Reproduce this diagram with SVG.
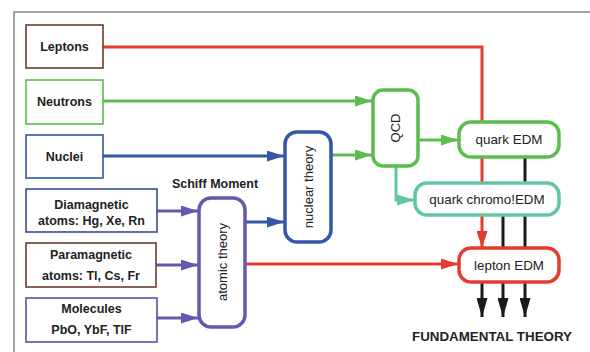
<svg xmlns="http://www.w3.org/2000/svg" width="590" height="352" viewBox="0 0 590 352">
<defs>
<style>
.lbl{font-family:"Liberation Sans",Arial,sans-serif;font-weight:bold;font-size:12.5px;fill:#222;text-anchor:middle}
.rl{font-family:"Liberation Sans",Arial,sans-serif;font-size:13.4px;fill:#222;text-anchor:middle;dominant-baseline:central}
.vt{font-size:13px}
.box{fill:#fff;stroke-width:1.6}
.rbox{fill:#fff;stroke-width:3.5}
.ln{fill:none;stroke-width:3}
</style>
<marker id="aR" markerUnits="userSpaceOnUse" markerWidth="17" markerHeight="11" refX="17" refY="5.5" orient="auto"><path d="M0,0 L17,5.5 L0,11 z" fill="#e33b2e"/></marker>
<marker id="aG" markerUnits="userSpaceOnUse" markerWidth="17" markerHeight="11" refX="17" refY="5.5" orient="auto"><path d="M0,0 L17,5.5 L0,11 z" fill="#5abd4c"/></marker>
<marker id="aB" markerUnits="userSpaceOnUse" markerWidth="17" markerHeight="11" refX="17" refY="5.5" orient="auto"><path d="M0,0 L17,5.5 L0,11 z" fill="#3457a8"/></marker>
<marker id="aT" markerUnits="userSpaceOnUse" markerWidth="17" markerHeight="11" refX="17" refY="5.5" orient="auto"><path d="M0,0 L17,5.5 L0,11 z" fill="#62c79d"/></marker>
<marker id="aP" markerUnits="userSpaceOnUse" markerWidth="17" markerHeight="11" refX="17" refY="5.5" orient="auto"><path d="M0,0 L17,5.5 L0,11 z" fill="#6b56ae"/></marker>
<marker id="aK" markerUnits="userSpaceOnUse" markerWidth="19" markerHeight="11" refX="19" refY="5.5" orient="auto"><path d="M0,0 L19,5.5 L0,11 z" fill="#1a1a1a"/></marker>
</defs>
<rect width="590" height="352" fill="#fff"/>
<path d="M14,352 V12 H590" fill="none" stroke="#888" stroke-width="1.5"/>
<g id="connectors">
<path class="ln" d="M103,47 H482 V248" stroke="#e33b2e" marker-end="url(#aR)"/>
<path class="ln" d="M103,101 H372" stroke="#5abd4c" marker-end="url(#aG)"/>
<path class="ln" d="M103,156 H284" stroke="#3457a8" marker-end="url(#aB)"/>
<path class="ln" d="M331,155 H372" stroke="#5abd4c" marker-end="url(#aG)"/>
<path class="ln" d="M418,140 H458" stroke="#5abd4c" marker-end="url(#aG)"/>
<path class="ln" d="M396,166 V200 H414" stroke="#62c79d" marker-end="url(#aT)"/>
<path class="ln" d="M245,222 H284" stroke="#3457a8" marker-end="url(#aB)"/>
<path class="ln" d="M157,211 H198" stroke="#6b56ae" marker-end="url(#aP)"/>
<path class="ln" d="M156,265 H198" stroke="#6b56ae" marker-end="url(#aP)"/>
<path class="ln" d="M157,318 H198" stroke="#6b56ae" marker-end="url(#aP)"/>
<path class="ln" d="M245,264 H458" stroke="#e33b2e" marker-end="url(#aR)"/>
<path class="ln" d="M525,157 V317" stroke="#1a1a1a" stroke-width="2.5" marker-end="url(#aK)"/>
<path class="ln" d="M503,215 V317" stroke="#1a1a1a" stroke-width="2.5" marker-end="url(#aK)"/>
<path class="ln" d="M482,282 V317" stroke="#1a1a1a" stroke-width="2.5" marker-end="url(#aK)"/>
</g>
<g id="leptons"><rect class="box" x="26" y="25" width="77" height="43" stroke="#6e3b30"/><text class="lbl" x="64.5" y="51">Leptons</text></g>
<g id="neutrons"><rect class="box" x="26" y="80" width="77" height="44" stroke="#5abd4c"/><text class="lbl" x="64.5" y="106">Neutrons</text></g>
<g id="nuclei"><rect class="box" x="26" y="135" width="77" height="43" stroke="#3457a8"/><text class="lbl" x="64.5" y="161">Nuclei</text></g>
<g id="diamagnetic"><rect class="box" x="26" y="189" width="131" height="43" stroke="#3d47a0"/><text class="lbl" x="91.5" y="209">Diamagnetic</text><text class="lbl" x="91.5" y="225">atoms: Hg, Xe, Rn</text></g>
<g id="paramagnetic"><rect class="box" x="26" y="243" width="130" height="44" stroke="#6e3b30"/><text class="lbl" x="91" y="259">Paramagnetic</text><text class="lbl" x="91" y="280">atoms: Tl, Cs, Fr</text></g>
<g id="molecules"><rect class="box" x="26" y="298" width="131" height="44" stroke="#5a4fb0"/><text class="lbl" x="91.5" y="313">Molecules</text><text class="lbl" x="91.5" y="334">PbO, YbF, TlF</text></g>
<g id="schiff"><text class="lbl" x="215" y="188">Schiff Moment</text></g>
<g id="atomic-theory"><rect class="rbox" x="199" y="198" width="46" height="129" rx="12" stroke="#6b56ae"/><text class="rl vt" transform="translate(222,262) rotate(-90)">atomic theory</text></g>
<g id="nuclear-theory"><rect class="rbox" x="285" y="132" width="46" height="110" rx="12" stroke="#3457a8"/><text class="rl vt" transform="translate(308,187) rotate(-90)">nuclear theory</text></g>
<g id="qcd"><rect class="rbox" x="373" y="90" width="45" height="76" rx="10" stroke="#5abd4c"/><text class="rl vt" transform="translate(395.5,128) rotate(-90)">QCD</text></g>
<g id="quark-edm"><rect class="rbox" x="459" y="122" width="100" height="35" rx="12" stroke="#5abd4c"/><text class="rl" x="509" y="139.5">quark EDM</text></g>
<g id="quark-chromo-edm"><rect class="rbox" x="415" y="183" width="144" height="32" rx="12" stroke="#62c79d"/><text class="rl" x="487" y="199">quark chromo!EDM</text></g>
<g id="lepton-edm"><rect class="rbox" x="459" y="248" width="100" height="34" rx="12" stroke="#e33b2e"/><text class="rl" x="509" y="265">lepton EDM</text></g>
<g id="fundamental"><text class="lbl" x="492" y="341" textLength="160" lengthAdjust="spacingAndGlyphs">FUNDAMENTAL THEORY</text></g>
</svg>
